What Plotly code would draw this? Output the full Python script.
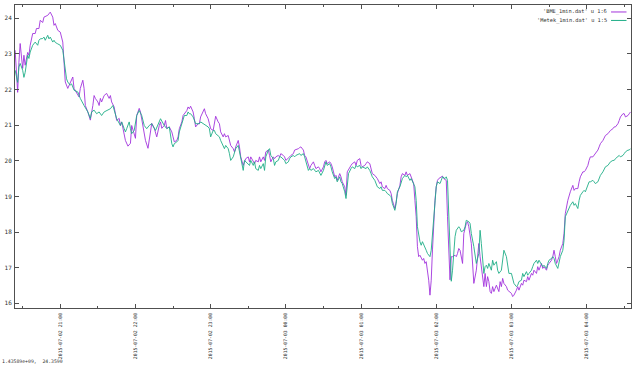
import pandas as pd
import plotly.graph_objects as go

# (minutes after 2015-07-02 20:00, temperature)
bme = [(24,23.10),(26,21.92),(27,22.76),(28,23.29),(30,22.59),(31,22.96),(32,22.68),(34,23.04),(35,22.96),(36,23.24),(38,23.57),(40,23.57),(41,23.71),(43,23.71),(44,23.94),(46,23.88),(47,24.03),(50,24.08),(52,24.17),(54,24.03),(55,23.80),(56,23.85),(58,23.66),(60,23.61),(62,23.33),(63,22.58),(64,22.21),(66,22.03),(68,22.21),(70,22.35),(71,22.03),(74,21.84),(75,21.79),(76,22.03),(78,22.26),(79,22.03),(80,21.55),(82,21.37),(84,21.14),(86,21.55),(87,21.83),(88,21.75),(90,21.65),(91,21.55),(92,21.75),(93,21.65),(95,21.83),(97,21.89),(99,21.75),(100,21.83),(101,21.65),(103,21.51),(104,21.27),(105,21.13),(107,21.19),(108,20.99),(109,21.09),(111,20.71),(112,20.57),(114,20.41),(116,20.49),(117,20.99),(119,20.77),(120,20.63),(121,21.27),(123,21.47),(124,21.37),(125,21.19),(127,20.81),(128,20.57),(130,20.35),(132,20.91),(133,21.05),(135,20.91),(136,20.81),(137,20.67),(139,20.99),(140,21.09),(141,20.91),(143,20.99),(144,21.13),(145,20.91),(147,20.95),
(149,20.81),(150,20.67),(151,20.53),(153,20.57),(154,20.67),(155,20.90),(157,21.09),(158,21.27),(159,21.32),(161,21.41),(162,21.51),(163,21.46),(164,21.53),(166,21.37),(167,21.18),(168,20.95),(170,21.04),(171,21.04),(172,21.23),(174,21.41),(175,21.46),(176,21.32),(178,21.18),(179,21.04),(180,20.90),(182,20.85),(183,21.13),(184,21.25),(186,21.09),(187,21.04),(188,20.81),(190,20.67),(191,20.76),(192,20.67),(194,20.71),(195,20.57),(196,20.43),(198,20.34),(199,20.25),(200,20.39),(202,20.57),(203,20.39),(204,20.11),(206,19.87),(207,19.97),(208,20.06),(210,20.11),(211,19.97),(212,20.11),(214,19.97),(215,19.92),(216,20.01),(218,19.97),(219,20.11),(220,19.97),(222,20.11),(223,20.01),(224,20.25),(226,20.30),(227,20.15),(228,19.97),(230,20.11),(231,20.06),(232,20.11),(234,20.15),(235,20.11),(236,20.20),(238,20.15),(239,20.11),(240,20.01),(242,20.06),(243,20.11),(244,20.15),(246,20.20),(247,20.30),(248,20.31),(250,20.34),(251,20.37),(252,20.39),(254,20.30),(255,20.15),(256,20.11),(258,19.92),(259,19.78),(260,19.87),(262,19.97),(263,19.87),(264,19.78),(266,19.83),(267,19.78),(268,19.69),(270,19.83),(271,19.97),(272,20.01),(273,19.92),(275,19.97),
(276,19.92),(277,19.83),(279,19.55),(280,19.59),(281,19.45),(283,19.64),(284,19.55),(285,19.41),(287,19.27),(288,19.03),(289,19.69),(291,19.83),(292,19.87),(293,19.92),(295,19.97),(296,19.87),(297,20.01),(299,20.06),(300,19.87),(301,19.83),(303,19.87),(304,19.92),(305,19.97),(307,19.92),(308,19.73),(309,19.64),(311,19.59),(312,19.55),(313,19.50),(315,19.36),(316,19.41),(317,19.27),(319,19.22),(320,19.31),(321,19.22),(323,19.17),(324,19.08),(325,18.89),(327,18.66),(328,18.85),(329,19.08),(331,19.31),(332,19.55),(333,19.64),(335,19.59),(336,19.69),(337,19.59),(339,19.64),(340,19.55),(341,19.50),(342,19.36),(343,18.89),(344,18.43),(345,17.59),(346,17.31),(347,17.35),(349,17.21),(350,17.26),(351,17.12),(352,17.17),(353,16.93),(354,16.65),(355,16.23),(356,16.65),(357,17.50),(358,18.30),(359,18.89),(360,19.27),(361,19.45),(362,19.50),(364,19.55),(365,19.57),(366,19.50),(368,19.45),(369,18.43),(370,17.31),(371,16.66),(372,17.31),(373,17.31),(375,17.35),(376,17.31),(377,17.40),(378,17.54),(379,17.49),(381,17.12),(382,17.96),(384,18.24),(385,18.29),(386,18.15),(388,17.68),(389,17.03),(390,16.56),(392,16.93),(393,17.31),
(394,17.68),(395,17.31),(397,16.75),(398,16.47),(399,16.84),(400,16.47),(401,16.75),(402,16.61),(403,16.33),(404,16.28),(405,16.47),(406,16.33),(407,16.42),(408,16.51),(410,16.33),(411,16.61),(412,16.47),(413,16.70),(414,16.56),(416,16.47),(417,16.37),(418,16.33),(420,16.28),(421,16.19),(422,16.23),(424,16.37),(425,16.47),(426,16.37),(428,16.56),(429,16.51),(430,16.65),(432,16.61),(433,16.75),(434,16.65),(436,16.84),(437,16.79),(438,16.93),(440,16.84),(441,17.03),(442,16.93),(444,17.12),(445,16.98),(446,17.03),(448,16.93),(449,17.07),(450,17.12),(452,17.21),(453,17.31),(454,17.49),(455,17.31),(456,17.12),(457,17.21),(458,17.31),(459,17.49),(461,17.68),(462,17.96),(463,18.52),(465,18.89),(466,19.03),(467,19.13),(469,19.31),(470,19.17),(471,19.22),(473,19.22),(474,19.41),(475,19.55),(477,19.69),(478,19.69),(479,19.73),(481,19.87),(482,20.01),(483,20.11),(485,20.11),(486,20.15),(487,20.20),(489,20.30),(490,20.39),(491,20.48),(493,20.57),(494,20.67),(495,20.71),(497,20.76),(498,20.81),(499,20.85),(501,20.90),(502,20.95),(503,20.95),(505,21.04),(506,21.13),(507,21.23),(509,21.32),(510,21.32),(511,21.23),(513,21.27),(514,21.32),(515,21.37)]

metek = [(24,22.54),(26,22.20),(27,22.63),(28,22.73),(30,22.54),(31,22.34),(32,22.48),(34,22.96),(35,22.87),(36,23.05),(38,23.24),(39,23.29),(40,23.33),(42,23.24),(43,23.38),(44,23.42),(46,23.43),(47,23.47),(48,23.38),(50,23.52),(51,23.42),(52,23.47),(54,23.33),(55,23.38),(56,23.32),(58,23.28),(59,23.26),(60,23.24),(62,23.10),(64,22.49),(65,22.30),(66,22.21),(68,22.12),(69,22.16),(71,21.98),(74,21.93),(75,21.83),(76,21.75),(79,21.55),(82,21.37),(84,21.19),(85,21.37),(87,21.42),(89,21.32),(91,21.37),(93,21.27),(95,21.37),(97,21.41),(100,21.46),(102,21.55),(104,21.27),(105,21.18),(108,20.99),(109,21.09),(111,20.90),(112,20.81),(113,20.90),(115,21.09),(116,20.90),(117,20.76),(119,20.85),(121,21.27),(123,21.41),(125,21.27),(127,20.99),(129,20.90),(131,20.99),(133,21.04),(136,20.85),(139,21.13),(140,21.18),(143,20.99),(145,20.90),(147,20.95),
(149,20.48),(150,20.39),(151,20.48),(153,20.53),(154,20.57),(155,20.81),(157,21.04),(158,21.18),(159,21.27),(161,21.27),(162,21.37),(163,21.32),(164,21.32),(166,21.23),(167,21.13),(168,21.04),(170,21.04),(171,21.04),(172,21.09),(174,21.04),(175,21.04),(176,20.99),(178,20.95),(179,20.90),(180,20.67),(182,20.85),(183,20.85),(184,20.76),(186,20.71),(187,20.67),(188,20.57),(190,20.43),(191,20.34),(192,20.43),(194,20.34),(195,20.20),(196,20.01),(198,20.11),(199,20.20),(200,20.34),(202,20.43),(203,20.25),(204,20.01),(206,19.73),(207,20.01),(208,19.97),(210,19.92),(211,19.87),(212,20.01),(214,19.87),(215,19.97),(216,19.78),(218,19.73),(219,19.87),(220,19.78),(222,19.92),(223,19.73),(224,20.11),(226,20.30),(227,20.34),(228,20.15),(230,20.06),(231,19.87),(232,19.97),(234,20.01),(235,20.11),(236,20.11),(238,20.06),(239,20.01),(240,19.92),(242,19.97),(243,20.06),(244,20.11),(246,20.15),(247,20.11),(248,20.15),(250,20.20),(251,20.20),(252,20.15),(254,20.20),(255,20.11),(256,19.97),(258,19.73),(259,19.78),(260,19.73),(262,19.78),(263,19.73),(264,19.69),(266,19.73),(267,19.64),(268,19.59),(270,19.73),(271,19.87),(272,19.97),(273,19.87),(275,19.92),
(276,19.83),(277,19.69),(279,19.50),(280,19.55),(281,19.41),(283,19.55),(284,19.41),(285,19.36),(287,19.13),(288,18.94),(290,19.64),(291,19.73),(292,19.78),(293,19.83),(295,19.78),(296,19.87),(297,19.83),(299,19.87),(300,19.78),(301,19.83),(303,19.78),(304,19.78),(305,19.83),(307,19.73),(308,19.64),(309,19.55),(311,19.45),(312,19.36),(313,19.27),(315,19.22),(316,19.27),(317,19.17),(319,19.17),(320,19.13),(321,19.08),(323,19.03),(324,18.99),(325,18.80),(327,18.61),(328,18.80),(329,19.13),(331,19.27),(332,19.41),(333,19.50),(335,19.59),(336,19.55),(337,19.59),(339,19.45),(340,19.50),(341,19.41),(343,19.27),(344,18.89),(345,18.15),(347,17.73),(348,17.63),(349,17.73),(351,17.59),(352,17.49),(353,17.40),(355,17.31),(356,17.49),(357,17.96),(359,18.71),(360,19.27),(361,19.41),(363,19.36),(364,19.45),(365,19.55),(367,19.50),(368,19.55),(369,19.45),(370,18.43),(371,17.31),(372,16.62),(373,16.93),(374,17.49),(375,17.87),(376,18.05),(378,18.15),(379,18.10),(380,18.01),(382,18.05),(383,18.15),(384,18.33),(386,18.29),(387,18.24),(388,17.96),(390,17.59),(391,17.31),(392,17.12),(394,17.40),
(395,18.05),(396,17.68),(397,17.21),(398,16.84),(399,17.03),(400,17.07),(401,16.98),(402,17.12),(404,16.93),(405,17.21),(406,17.07),(408,17.17),(409,16.93),(410,16.84),(412,16.93),(413,17.31),(414,17.49),(416,17.31),(417,17.03),(418,16.84),(420,16.84),(421,16.65),(422,16.56),(424,16.47),(425,16.51),(426,16.61),(428,16.65),(429,16.84),(430,16.75),(432,16.89),(433,16.79),(434,16.84),(436,16.93),(437,17.03),(438,17.12),(440,17.21),(441,17.12),(442,17.21),(444,17.07),(445,17.03),(446,17.07),(448,16.98),(449,17.12),(450,17.21),(452,17.26),(453,17.31),(454,17.26),(455,17.12),(457,16.98),(458,17.12),(459,17.31),(461,17.49),(462,17.77),(463,18.43),(465,18.61),(466,18.71),(467,18.75),(469,18.85),(470,18.75),(471,18.80),(473,18.66),(474,18.89),(475,19.03),(477,19.13),(478,19.17),(479,19.13),(481,19.31),(482,19.41),(483,19.41),(485,19.45),(486,19.41),(487,19.36),(489,19.41),(490,19.50),(491,19.59),(493,19.69),(494,19.78),(495,19.83),(497,19.87),(498,19.92),(499,19.97),(501,20.01),(502,20.01),(503,20.06),(505,20.11),(506,20.15),(507,20.11),(509,20.15),(510,20.20),(511,20.25),(513,20.30),(514,20.30),(515,20.34)]

base_time = "2015-07-02 20:00"
x_range = ["2015-07-02 20:23:53", "2015-07-03 04:35:25"]
y_range = [15.87, 24.37]
labels = ["'BME_1min.dat' u 1:6", "'Metek_1min.dat' u 1:5"]
colors = ["#a233dc", "#1fae87"]
status_text = "1.43589e+09,  24.3590"


def to_xy(pairs):
    t0 = pd.Timestamp(base_time)
    xs = [t0 + pd.Timedelta(minutes=m) for m, _ in pairs]
    ys = [v for _, v in pairs]
    return xs, ys


fig = go.Figure()
for pairs, name, col in zip([bme, metek], labels, colors):
    xs, ys = to_xy(pairs)
    fig.add_trace(go.Scatter(x=xs, y=ys, mode="lines", name=name,
                             line=dict(color=col, width=0.9)))

FONT = "DejaVu Sans Mono"
axcol = "#505050"
txtcol = "#303030"
fig.update_layout(
    width=640, height=366,
    margin=dict(l=15, r=9, t=5, b=58, autoexpand=False),
    plot_bgcolor="white", paper_bgcolor="white",
    showlegend=False,
    font=dict(family=FONT, size=5, color=txtcol),
    xaxis=dict(type="date", range=x_range, tickformat="%Y-%m-%d %H:%M",
               dtick=3600000, tick0="2015-07-02 21:00", tickangle=-90,
               ticks="inside", ticklen=4, tickcolor=axcol, showline=True,
               linecolor=axcol, linewidth=1, mirror="ticks", showgrid=False,
               zeroline=False, automargin=False, ticklabelstandoff=2,
               tickfont=dict(size=4.8, color=txtcol),
               minor=dict(dtick=1800000, tick0="2015-07-02 20:30",
                          ticks="inside", ticklen=2, tickcolor=axcol, showgrid=False)),
    yaxis=dict(range=y_range, dtick=1, tick0=16, ticks="inside", ticklen=4,
               tickcolor=axcol, showline=True, linecolor=axcol, linewidth=1,
               mirror="ticks", showgrid=False, zeroline=False, automargin=False,
               ticklabelstandoff=1, tickfont=dict(size=6, color=txtcol)),
)

# gnuplot-style key: text right-aligned, sample line to its right
key_rows = [0.977, 0.949]
for lab, col, yy in zip(labels, colors, key_rows):
    fig.add_annotation(x=0.964, y=yy, xref="paper", yref="paper", text=lab,
                       showarrow=False, xanchor="right", yanchor="middle",
                       font=dict(size=5.3, family=FONT, color=txtcol))
    fig.add_shape(type="line", xref="paper", yref="paper", x0=0.9676, x1=0.9927,
                  y0=yy, y1=yy, line=dict(color=col, width=1))

fig.add_annotation(x=-0.024, y=-0.175, xref="paper", yref="paper", text=status_text,
                   showarrow=False, xanchor="left", yanchor="middle",
                   font=dict(size=4.8, family=FONT, color=txtcol))

fig.write_html("out.html", config={"displayModeBar": False},
               post_script="document.body.style.margin='0';document.body.style.overflow='hidden';")
